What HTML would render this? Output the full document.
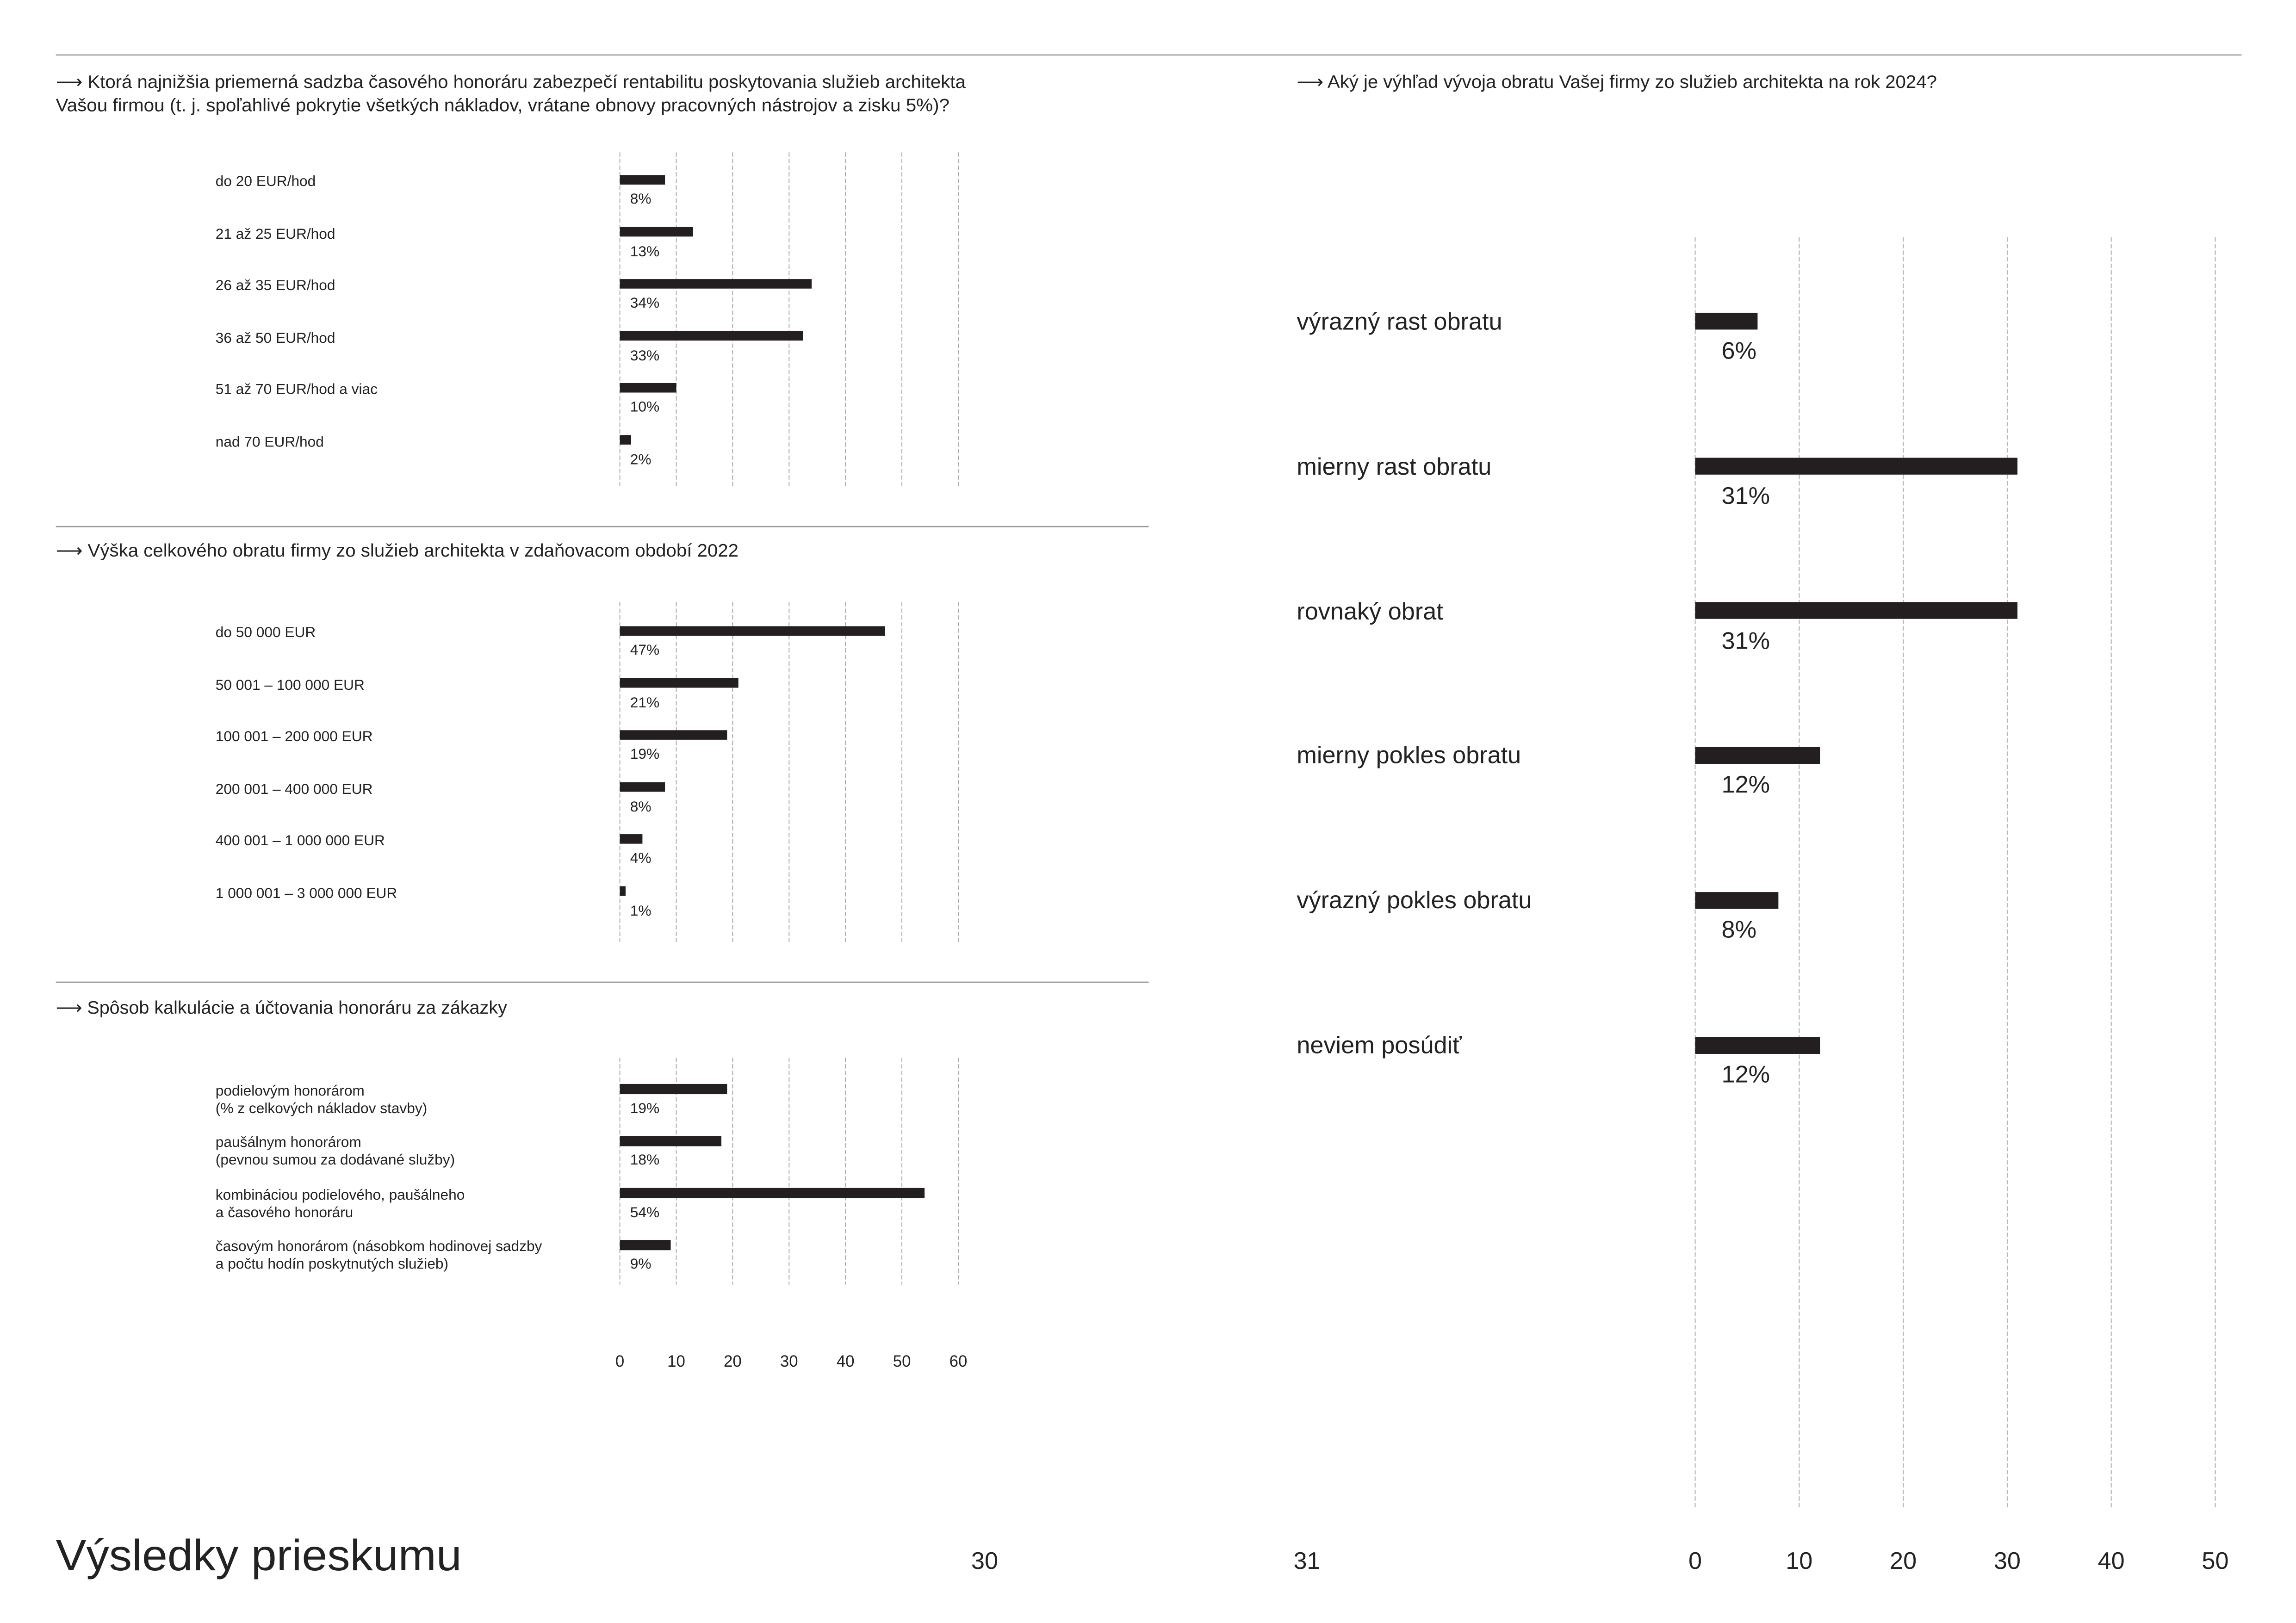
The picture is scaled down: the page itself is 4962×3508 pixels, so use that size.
<!DOCTYPE html>
<html><head><meta charset="utf-8"><style>
html,body{margin:0;padding:0;background:#fff;}
svg{display:block;}
text{font-family:"Liberation Sans",sans-serif;fill:#222;}
</style></head><body>
<svg width="4962" height="3508" viewBox="0 0 1567 1108" xmlns="http://www.w3.org/2000/svg">
<rect width="1567" height="1108" fill="#fff"/>
<line x1="38" y1="37.5" x2="1530" y2="37.5" stroke="#999" stroke-width="0.8"/>
<line x1="38" y1="359.5" x2="784" y2="359.5" stroke="#999" stroke-width="0.8"/>
<line x1="38" y1="670.5" x2="784" y2="670.5" stroke="#999" stroke-width="0.8"/>

<g font-size="12.4">
<text x="38" y="60" textLength="621" lengthAdjust="spacingAndGlyphs">⟶ Ktorá najnižšia priemerná sadzba časového honoráru zabezpečí rentabilitu poskytovania služieb architekta</text>
<text x="38" y="76" textLength="610" lengthAdjust="spacingAndGlyphs">Vašou firmou (t. j. spoľahlivé pokrytie všetkých nákladov, vrátane obnovy pracovných nástrojov a zisku 5%)?</text>
<text x="38" y="380" textLength="466" lengthAdjust="spacingAndGlyphs">⟶ Výška celkového obratu firmy zo služieb architekta v zdaňovacom období 2022</text>
<text x="38" y="692" textLength="308" lengthAdjust="spacingAndGlyphs">⟶ Spôsob kalkulácie a účtovania honoráru za zákazky</text>
<text x="885" y="60" textLength="437" lengthAdjust="spacingAndGlyphs">⟶ Aký je výhľad vývoja obratu Vašej firmy zo služieb architekta na rok 2024?</text>
</g>

<g stroke="#aaa" stroke-width="0.6" stroke-dasharray="3,1.5">
<line x1="423" y1="104" x2="423" y2="333"/><line x1="461.5" y1="104" x2="461.5" y2="333"/><line x1="500" y1="104" x2="500" y2="333"/><line x1="538.5" y1="104" x2="538.5" y2="333"/><line x1="577" y1="104" x2="577" y2="333"/><line x1="615.5" y1="104" x2="615.5" y2="333"/><line x1="654" y1="104" x2="654" y2="333"/>
<line x1="423" y1="411" x2="423" y2="643"/><line x1="461.5" y1="411" x2="461.5" y2="643"/><line x1="500" y1="411" x2="500" y2="643"/><line x1="538.5" y1="411" x2="538.5" y2="643"/><line x1="577" y1="411" x2="577" y2="643"/><line x1="615.5" y1="411" x2="615.5" y2="643"/><line x1="654" y1="411" x2="654" y2="643"/>
<line x1="423" y1="722" x2="423" y2="877"/><line x1="461.5" y1="722" x2="461.5" y2="877"/><line x1="500" y1="722" x2="500" y2="877"/><line x1="538.5" y1="722" x2="538.5" y2="877"/><line x1="577" y1="722" x2="577" y2="877"/><line x1="615.5" y1="722" x2="615.5" y2="877"/><line x1="654" y1="722" x2="654" y2="877"/>
</g>

<g fill="#231f20">
<rect x="423" y="119.5" width="30.8" height="6.5"/>
<rect x="423" y="155" width="50" height="6.5"/>
<rect x="423" y="190.5" width="130.9" height="6.5"/>
<rect x="423" y="226" width="125" height="6.5"/>
<rect x="423" y="261.5" width="38.5" height="6.5"/>
<rect x="423" y="297" width="7.7" height="6.5"/>

<rect x="423" y="427.5" width="181" height="6.5"/>
<rect x="423" y="463" width="80.9" height="6.5"/>
<rect x="423" y="498.5" width="73.2" height="6.5"/>
<rect x="423" y="534" width="30.8" height="6.5"/>
<rect x="423" y="569.5" width="15.4" height="6.5"/>
<rect x="423" y="605" width="3.9" height="6.5"/>

<rect x="423" y="740" width="73.2" height="7"/>
<rect x="423" y="775.5" width="69.3" height="7"/>
<rect x="423" y="811" width="208" height="7"/>
<rect x="423" y="846.5" width="34.7" height="7"/>
</g>

<g font-size="10">
<text x="147" y="127">do 20 EUR/hod</text><text x="430" y="139">8%</text>
<text x="147" y="163">21 až 25 EUR/hod</text><text x="430" y="175">13%</text>
<text x="147" y="198">26 až 35 EUR/hod</text><text x="430" y="210">34%</text>
<text x="147" y="234">36 až 50 EUR/hod</text><text x="430" y="246">33%</text>
<text x="147" y="269">51 až 70 EUR/hod a viac</text><text x="430" y="281">10%</text>
<text x="147" y="305">nad 70 EUR/hod</text><text x="430" y="317">2%</text>

<text x="147" y="435">do 50 000 EUR</text><text x="430" y="447">47%</text>
<text x="147" y="471">50 001 – 100 000 EUR</text><text x="430" y="483">21%</text>
<text x="147" y="506">100 001 – 200 000 EUR</text><text x="430" y="518">19%</text>
<text x="147" y="542">200 001 – 400 000 EUR</text><text x="430" y="554">8%</text>
<text x="147" y="577">400 001 – 1 000 000 EUR</text><text x="430" y="589">4%</text>
<text x="147" y="613">1 000 001 – 3 000 000 EUR</text><text x="430" y="625">1%</text>

<text x="147" y="748">podielovým honorárom</text><text x="147" y="760">(% z celkových nákladov stavby)</text><text x="430" y="760">19%</text>
<text x="147" y="783">paušálnym honorárom</text><text x="147" y="795">(pevnou sumou za dodávané služby)</text><text x="430" y="795">18%</text>
<text x="147" y="819">kombináciou podielového, paušálneho</text><text x="147" y="831">a časového honoráru</text><text x="430" y="831">54%</text>
<text x="147" y="854">časovým honorárom (násobkom hodinovej sadzby</text><text x="147" y="866">a počtu hodín poskytnutých služieb)</text><text x="430" y="866">9%</text>
</g>

<g font-size="11" text-anchor="middle">
<text x="423" y="933">0</text><text x="461.5" y="933">10</text><text x="500" y="933">20</text><text x="538.5" y="933">30</text><text x="577" y="933">40</text><text x="615.5" y="933">50</text><text x="654" y="933">60</text>
</g>

<g stroke="#aaa" stroke-width="0.6" stroke-dasharray="3,1.5">
<line x1="1157" y1="162" x2="1157" y2="1030"/><line x1="1228" y1="162" x2="1228" y2="1030"/><line x1="1299" y1="162" x2="1299" y2="1030"/><line x1="1370" y1="162" x2="1370" y2="1030"/><line x1="1441" y1="162" x2="1441" y2="1030"/><line x1="1512" y1="162" x2="1512" y2="1030"/>
</g>
<g fill="#231f20">
<rect x="1157" y="213.5" width="42.6" height="11.5"/>
<rect x="1157" y="312.5" width="220" height="11.5"/>
<rect x="1157" y="411" width="220" height="11.5"/>
<rect x="1157" y="510" width="85.2" height="11.5"/>
<rect x="1157" y="609" width="56.8" height="11.5"/>
<rect x="1157" y="708" width="85.2" height="11.5"/>
</g>
<g font-size="16.5">
<text x="885" y="225">výrazný rast obratu</text><text x="1175" y="245">6%</text>
<text x="885" y="324">mierny rast obratu</text><text x="1175" y="344">31%</text>
<text x="885" y="423">rovnaký obrat</text><text x="1175" y="443">31%</text>
<text x="885" y="521">mierny pokles obratu</text><text x="1175" y="541">12%</text>
<text x="885" y="620">výrazný pokles obratu</text><text x="1175" y="640">8%</text>
<text x="885" y="719">neviem posúdiť</text><text x="1175" y="739">12%</text>
</g>
<g font-size="16.5" text-anchor="middle">
<text x="1157" y="1071">0</text><text x="1228" y="1071">10</text><text x="1299" y="1071">20</text><text x="1370" y="1071">30</text><text x="1441" y="1071">40</text><text x="1512" y="1071">50</text>
<text x="672" y="1071">30</text><text x="892" y="1071">31</text>
</g>
<text x="38" y="1072" font-size="30" textLength="277" lengthAdjust="spacingAndGlyphs">Výsledky prieskumu</text>
</svg>
</body></html>
